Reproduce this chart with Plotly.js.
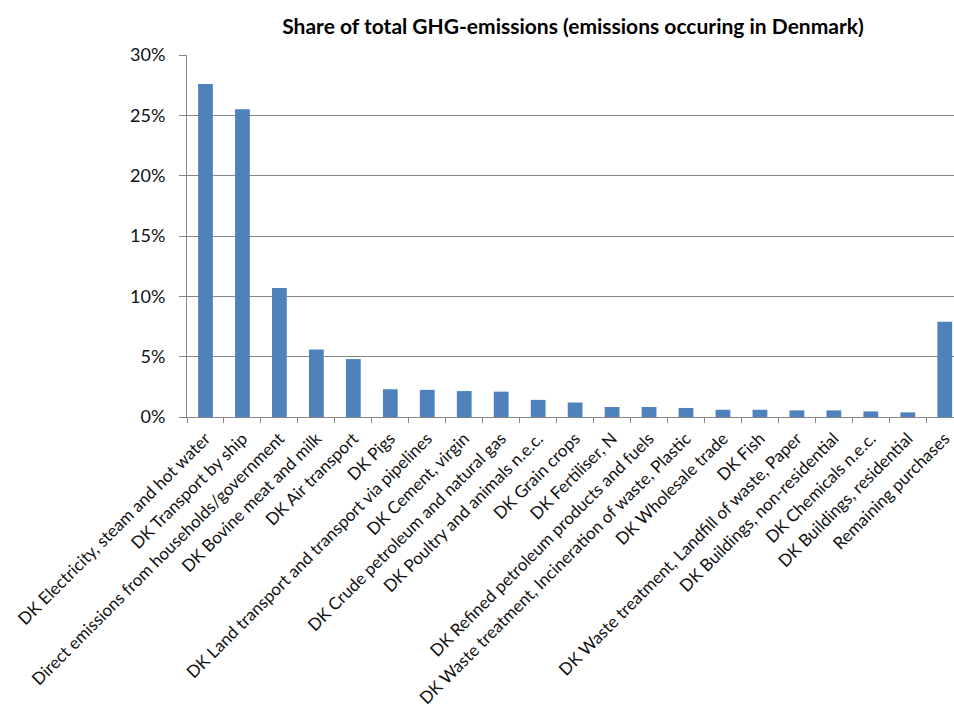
<!DOCTYPE html>
<html>
<head>
<meta charset="utf-8">
<script src="https://cdn.plot.ly/plotly-3.0.1.min.js"></script>
<style>html,body{margin:0;padding:0;background:#fff;}#chart{width:954px;height:711px;}</style>
</head>
<body>
<div id="chart"></div>
<script>
const categories = [
  "DK Electricity, steam and hot water",
  "DK Transport by ship",
  "Direct emissions from households/government",
  "DK Bovine meat and milk",
  "DK Air transport",
  "DK Pigs",
  "DK Land transport and transport via pipelines",
  "DK Cement, virgin",
  "DK Crude petroleum and natural gas",
  "DK Poultry and animals n.e.c.",
  "DK Grain crops",
  "DK Fertiliser, N",
  "DK Refined petroleum products and fuels",
  "DK Waste treatment, Incineration of waste, Plastic",
  "DK Wholesale trade",
  "DK Fish",
  "DK Waste treatment, Landfill of waste, Paper",
  "DK Buildings, non-residential",
  "DK Chemicals n.e.c.",
  "DK Buildings, residential",
  "Remaining purchases"
];
const shares = [0.276, 0.255, 0.107, 0.056, 0.048, 0.023, 0.0225, 0.0215, 0.021, 0.0142, 0.012, 0.0083, 0.0083, 0.0075, 0.006, 0.006, 0.0055, 0.0055, 0.0046, 0.0038, 0.079];
const yTicks = [0, 0.05, 0.10, 0.15, 0.20, 0.25, 0.30];

const trace = {
  type: 'bar',
  x: categories,
  y: shares,
  marker: {color: '#4F81BD'},
  hoverinfo: 'x+y'
};

const layout = {
  width: 954,
  height: 711,
  margin: {l: 187, r: 0, t: 55, b: 294, pad: 0},
  paper_bgcolor: '#ffffff',
  plot_bgcolor: '#ffffff',
  font: {family: 'Lato, "Open Sans", sans-serif', size: 17, color: '#111'},
  title: {
    text: '<b>Share of total GHG-emissions (emissions occuring in Denmark)</b>',
    font: {family: 'Lato, "Open Sans", sans-serif', size: 21, color: '#000'},
    xref: 'container', x: 573 / 954, xanchor: 'center',
    yref: 'container', y: 1 - 27 / 711, yanchor: 'middle'
  },
  bargap: 0.6,
  showlegend: false,
  xaxis: {
    type: 'category',
    range: [-0.5, 20.25],
    tickangle: -45,
    tickson: 'boundaries',
    ticks: 'outside',
    ticklen: 5,
    tickcolor: '#868686',
    ticklabelstandoff: 4,
    showline: true,
    linecolor: '#868686',
    linewidth: 1,
    showgrid: false,
    tickfont: {family: 'Lato, "Open Sans", sans-serif', size: 17, color: '#111'},
    automargin: false
  },
  yaxis: {
    range: [0, 0.30],
    tickvals: yTicks,
    tickformat: '.0%',
    ticks: 'outside',
    ticklen: 7,
    tickcolor: '#868686',
    ticklabelstandoff: 10,
    showline: true,
    linecolor: '#868686',
    linewidth: 1,
    showgrid: true,
    gridcolor: '#868686',
    gridwidth: 1,
    zeroline: false,
    tickfont: {family: 'Lato, "Open Sans", sans-serif', size: 18, color: '#111'},
    automargin: false
  }
};

Plotly.newPlot('chart', [trace], layout, {displayModeBar: false, staticPlot: true});
</script>
</body>
</html>
